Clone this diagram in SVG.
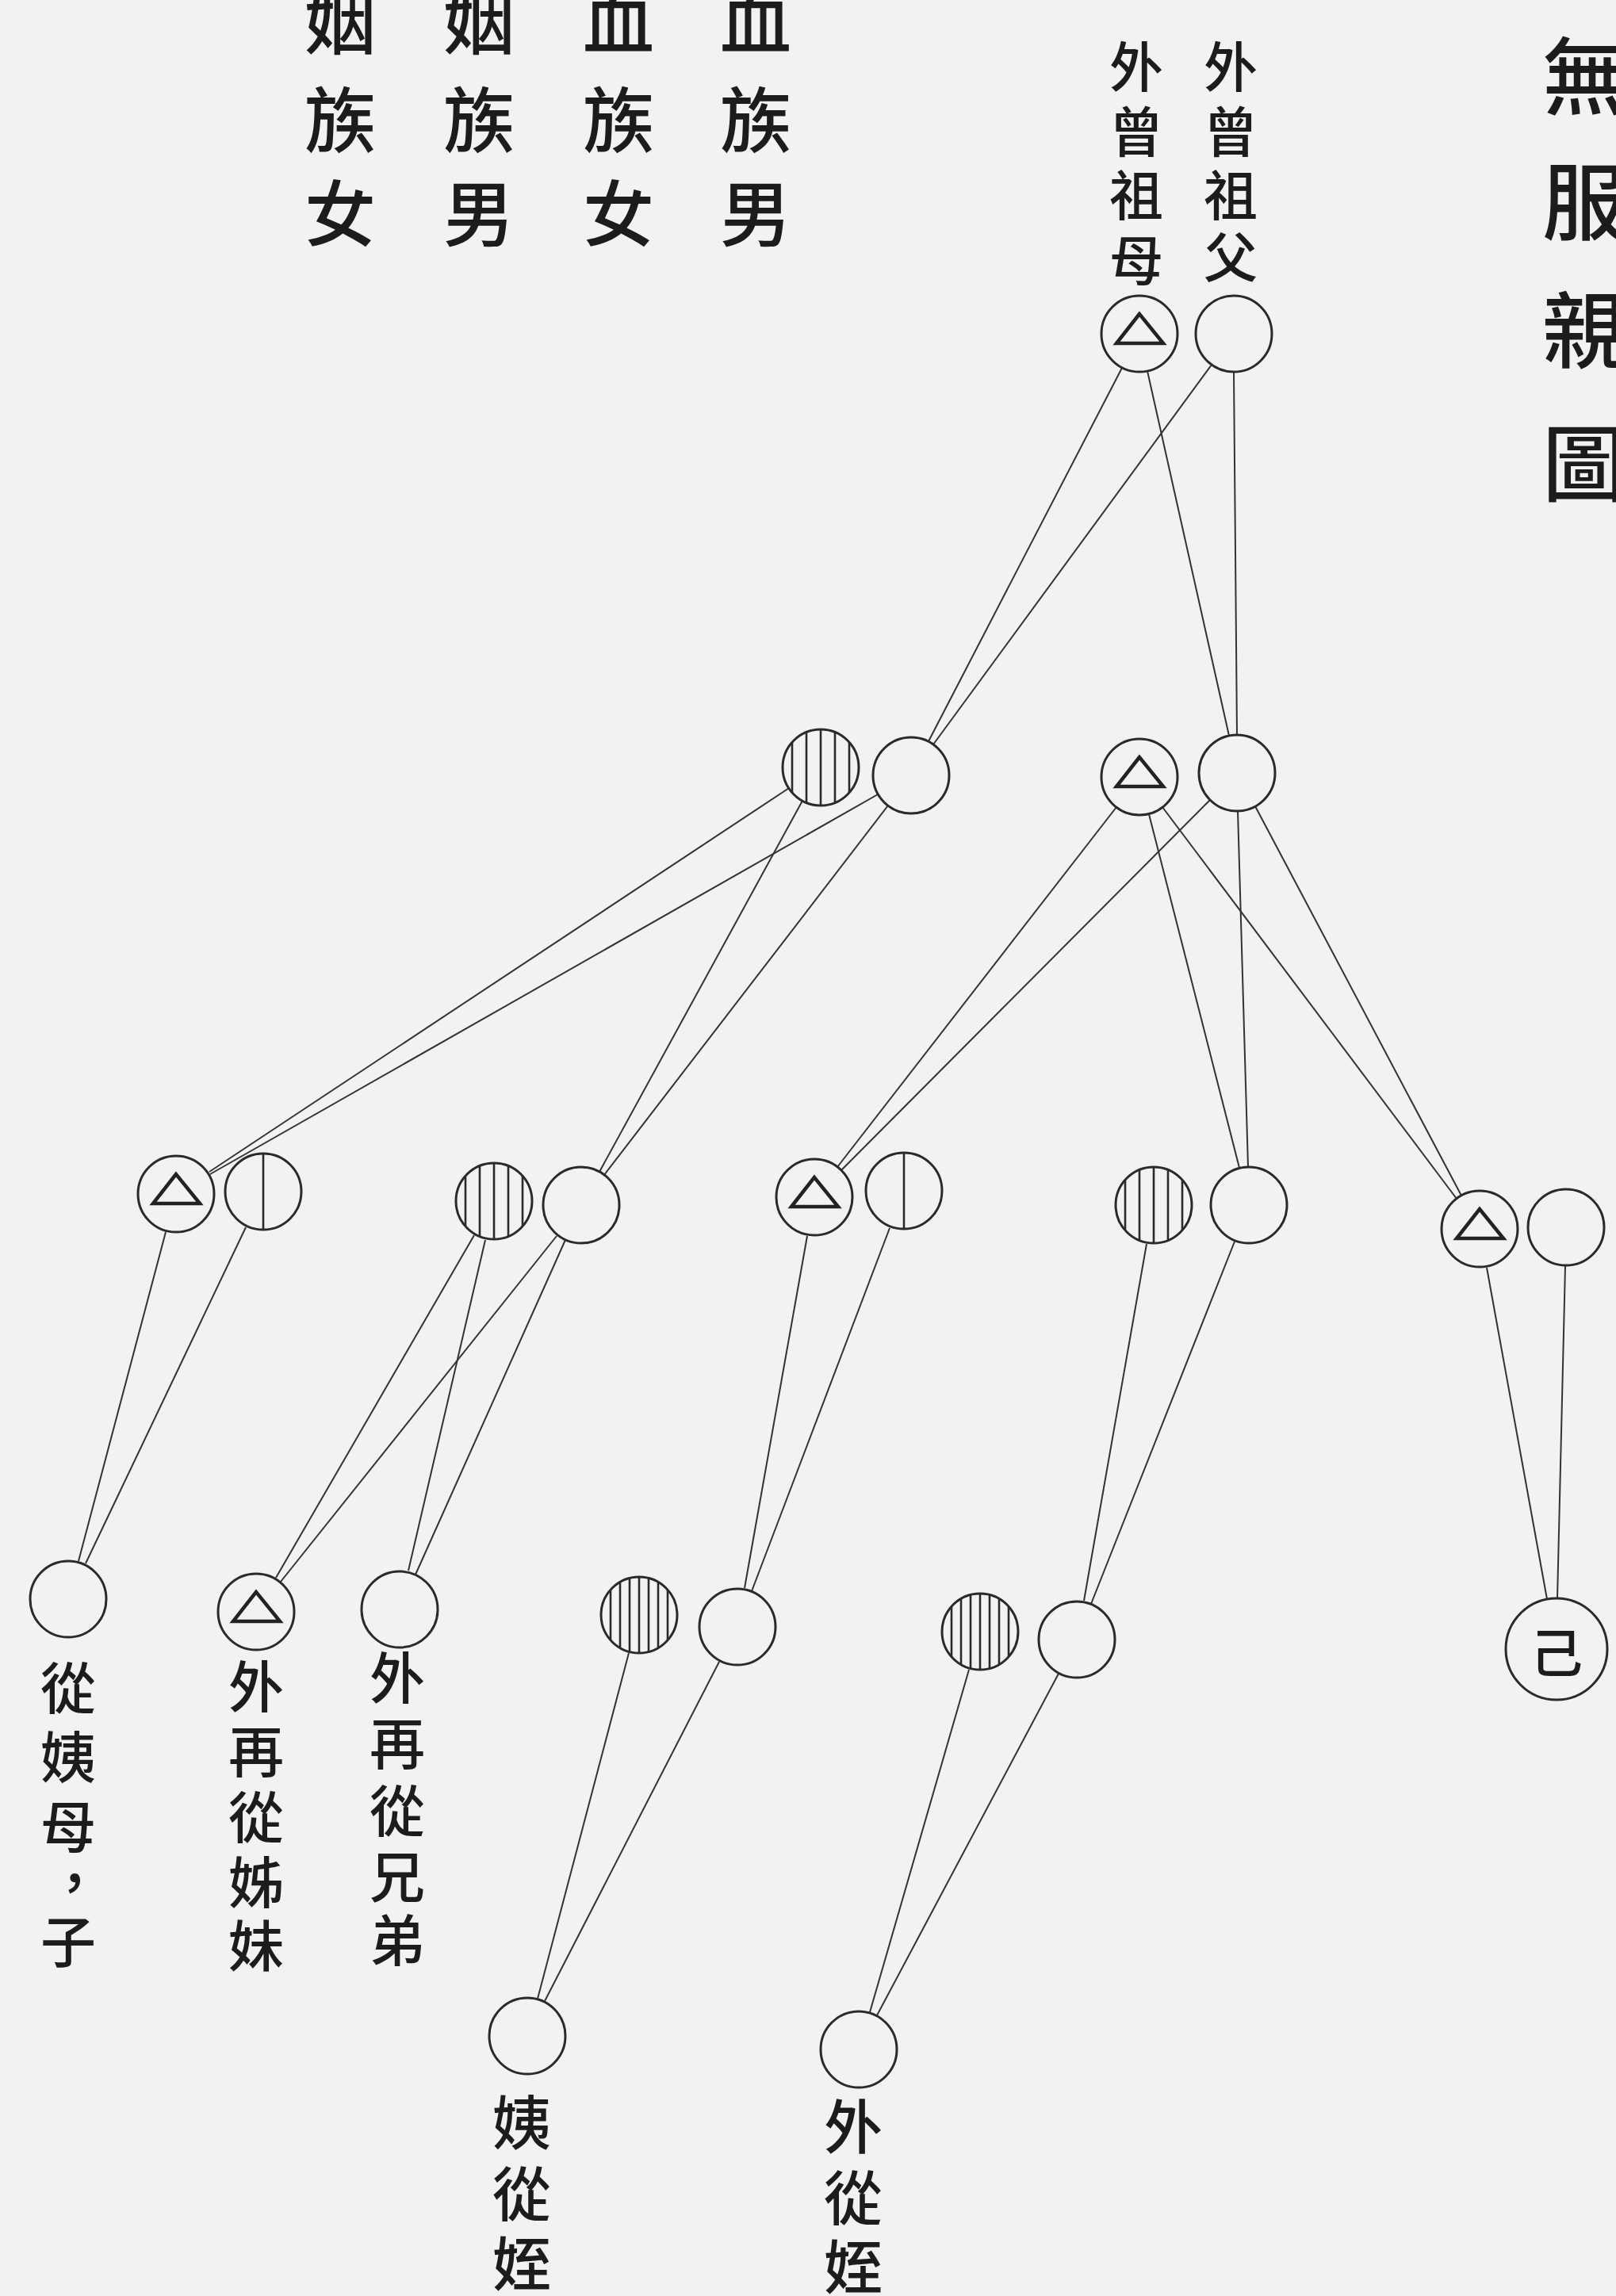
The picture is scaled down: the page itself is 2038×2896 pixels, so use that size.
<svg xmlns="http://www.w3.org/2000/svg" xmlns:xlink="http://www.w3.org/1999/xlink" width="2038" height="2896" viewBox="0 0 2038 2896">
<style>
.bg{fill:#f2f2f0}
.c{fill:none;stroke:#2a2a2a;stroke-width:3}
.h{stroke:#2a2a2a;stroke-width:2.6}
.tr{fill:none;stroke:#222;stroke-width:4.5;stroke-linejoin:miter}
.ln{stroke:#333;stroke-width:2;fill:none}
text{font-family:"Noto Sans CJK TC","Noto Sans CJK JP",sans-serif;font-weight:500;fill:#1c1c1c;text-anchor:middle;dominant-baseline:central}
.lg{font-size:90px}
.ti{font-size:106px}
.tp{font-size:68px}
.lb{font-size:70px}
.lc{font-size:74px}
.ji{font-size:66px}
</style>
<defs>
<circle id="circ" r="48" class="c"/>
<g id="tri"><circle r="48" class="c"/><polygon class="tr" points="0,-25 -29,12 30,12"/></g>
<g id="vl"><circle r="48" class="c"/><line class="h" x1="0" y1="-48" x2="0" y2="48"/></g>
<g id="h5"><circle r="48" class="c"/>
<line class="h" x1="-36" y1="-31.7" x2="-36" y2="31.7"/>
<line class="h" x1="-18" y1="-44.5" x2="-18" y2="44.5"/>
<line class="h" x1="0" y1="-48" x2="0" y2="48"/>
<line class="h" x1="18" y1="-44.5" x2="18" y2="44.5"/>
<line class="h" x1="36" y1="-31.7" x2="36" y2="31.7"/>
</g>
<g id="h7"><circle r="48" class="c"/>
<line class="h" x1="-36" y1="-31.7" x2="-36" y2="31.7"/>
<line class="h" x1="-24" y1="-41.6" x2="-24" y2="41.6"/>
<line class="h" x1="-12" y1="-46.5" x2="-12" y2="46.5"/>
<line class="h" x1="0" y1="-48" x2="0" y2="48"/>
<line class="h" x1="12" y1="-46.5" x2="12" y2="46.5"/>
<line class="h" x1="24" y1="-41.6" x2="24" y2="41.6"/>
<line class="h" x1="36" y1="-31.7" x2="36" y2="31.7"/>
</g>
</defs>
<rect class="bg" x="0" y="0" width="2038" height="2896"/>

<g id="legend">
<text class="lg"><tspan x="429" y="22">姻</tspan><tspan x="429" y="146">族</tspan><tspan x="429" y="264">女</tspan></text>
<text class="lg"><tspan x="604" y="22">姻</tspan><tspan x="604" y="146">族</tspan><tspan x="604" y="264">男</tspan></text>
<text class="lg"><tspan x="780" y="22">血</tspan><tspan x="780" y="146">族</tspan><tspan x="780" y="264">女</tspan></text>
<text class="lg"><tspan x="953" y="22">血</tspan><tspan x="953" y="146">族</tspan><tspan x="953" y="264">男</tspan></text>
</g>

<g id="title">
<text class="ti"><tspan x="1998" y="90">無</tspan><tspan x="1998" y="248">服</tspan><tspan x="1998" y="410">親</tspan><tspan x="1998" y="578">圖</tspan></text>
</g>

<g id="connectors">
<line class="ln" x1="1415" y1="464" x2="1171" y2="935"/>
<line class="ln" x1="1528" y1="460" x2="1177" y2="939"/>
<line class="ln" x1="1447" y1="468" x2="1550" y2="928"/>
<line class="ln" x1="1556" y1="469" x2="1560" y2="927"/>
<line class="ln" x1="995" y1="994" x2="264" y2="1478"/>
<line class="ln" x1="1107" y1="1002" x2="265" y2="1481"/>
<line class="ln" x1="1012" y1="1010" x2="756" y2="1478"/>
<line class="ln" x1="1120" y1="1016" x2="762" y2="1482"/>
<line class="ln" x1="1408" y1="1018" x2="1056" y2="1472"/>
<line class="ln" x1="1526" y1="1009" x2="1061" y2="1476"/>
<line class="ln" x1="1449" y1="1027" x2="1563" y2="1473"/>
<line class="ln" x1="1561" y1="1023" x2="1574" y2="1472"/>
<line class="ln" x1="1466" y1="1018" x2="1837" y2="1512"/>
<line class="ln" x1="1583" y1="1017" x2="1843" y2="1508"/>
<line class="ln" x1="209" y1="1554" x2="99" y2="1969"/>
<line class="ln" x1="310" y1="1548" x2="108" y2="1972"/>
<line class="ln" x1="598" y1="1558" x2="348" y2="1990"/>
<line class="ln" x1="612" y1="1564" x2="515" y2="1981"/>
<line class="ln" x1="702" y1="1559" x2="354" y2="1995"/>
<line class="ln" x1="713" y1="1564" x2="524" y2="1986"/>
<line class="ln" x1="1018" y1="1559" x2="939" y2="2003"/>
<line class="ln" x1="1122" y1="1549" x2="948" y2="2007"/>
<line class="ln" x1="1446" y1="1569" x2="1367" y2="2019"/>
<line class="ln" x1="1557" y1="1566" x2="1376" y2="2023"/>
<line class="ln" x1="1875" y1="1599" x2="1951" y2="2017"/>
<line class="ln" x1="1974" y1="1597" x2="1964" y2="2016"/>
<line class="ln" x1="793" y1="2085" x2="678" y2="2521"/>
<line class="ln" x1="907" y1="2096" x2="687" y2="2524"/>
<line class="ln" x1="1222" y1="2106" x2="1097" y2="2538"/>
<line class="ln" x1="1335" y1="2111" x2="1106" y2="2542"/>
</g>

<g id="n-waizengzumu"><use xlink:href="#tri" x="1437" y="421"/>
<text class="tp"><tspan x="1433" y="80">外</tspan><tspan x="1433" y="162">曾</tspan><tspan x="1433" y="242">祖</tspan><tspan x="1433" y="324">母</tspan></text></g>
<g id="n-waizengzufu"><use xlink:href="#circ" x="1556" y="421"/>
<text class="tp"><tspan x="1552" y="80">外</tspan><tspan x="1552" y="162">曾</tspan><tspan x="1552" y="242">祖</tspan><tspan x="1552" y="320">父</tspan></text></g>

<g id="n-b1"><use xlink:href="#h5" x="1035" y="968"/></g>
<g id="n-b2"><use xlink:href="#circ" x="1149" y="978"/></g>
<g id="n-b3"><use xlink:href="#tri" x="1437" y="980"/></g>
<g id="n-b4"><use xlink:href="#circ" x="1560" y="975"/></g>

<g id="n-c1"><use xlink:href="#tri" x="222" y="1506"/></g>
<g id="n-c2"><use xlink:href="#vl" x="332" y="1503"/></g>
<g id="n-c3"><use xlink:href="#h5" x="623" y="1515"/></g>
<g id="n-c4"><use xlink:href="#circ" x="733" y="1520"/></g>
<g id="n-c5"><use xlink:href="#tri" x="1027" y="1510"/></g>
<g id="n-c6"><use xlink:href="#vl" x="1140" y="1502"/></g>
<g id="n-c7"><use xlink:href="#h5" x="1455" y="1520"/></g>
<g id="n-c8"><use xlink:href="#circ" x="1575" y="1520"/></g>
<g id="n-c9"><use xlink:href="#tri" x="1866" y="1550"/></g>
<g id="n-c10"><use xlink:href="#circ" x="1975" y="1548"/></g>

<g id="n-congyimuzi"><use xlink:href="#circ" x="86" y="2017"/>
<text class="lb"><tspan x="86" y="2125">從</tspan><tspan x="86" y="2212">姨</tspan><tspan x="86" y="2300">母</tspan><tspan x="94" y="2370">，</tspan><tspan x="86" y="2445">子</tspan></text></g>
<g id="n-waizaicongzimei"><use xlink:href="#tri" x="323" y="2033"/>
<text class="lb"><tspan x="323" y="2123">外</tspan><tspan x="323" y="2205">再</tspan><tspan x="323" y="2288">從</tspan><tspan x="323" y="2370">姊</tspan><tspan x="323" y="2450">妹</tspan></text></g>
<g id="n-waizaicongxiongdi"><use xlink:href="#circ" x="504" y="2030"/>
<text class="lb"><tspan x="501" y="2112">外</tspan><tspan x="501" y="2195">再</tspan><tspan x="501" y="2280">從</tspan><tspan x="501" y="2363">兄</tspan><tspan x="501" y="2443">弟</tspan></text></g>
<g id="n-d4"><use xlink:href="#h7" x="806" y="2037"/></g>
<g id="n-d5"><use xlink:href="#circ" x="930" y="2052"/></g>
<g id="n-d6"><use xlink:href="#h7" x="1236" y="2058"/></g>
<g id="n-d7"><use xlink:href="#circ" x="1358" y="2068"/></g>
<g id="n-ji"><circle class="c" cx="1963" cy="2080" r="64"/><text class="ji" x="1963" y="2080">己</text></g>

<g id="n-yicongzhi"><use xlink:href="#circ" x="665" y="2568"/>
<text class="lc"><tspan x="658" y="2672">姨</tspan><tspan x="658" y="2762">從</tspan><tspan x="658" y="2850">姪</tspan></text></g>
<g id="n-waicongzhi"><use xlink:href="#circ" x="1083" y="2585"/>
<text class="lc"><tspan x="1076" y="2677">外</tspan><tspan x="1076" y="2767">從</tspan><tspan x="1076" y="2854">姪</tspan></text></g>
</svg>
